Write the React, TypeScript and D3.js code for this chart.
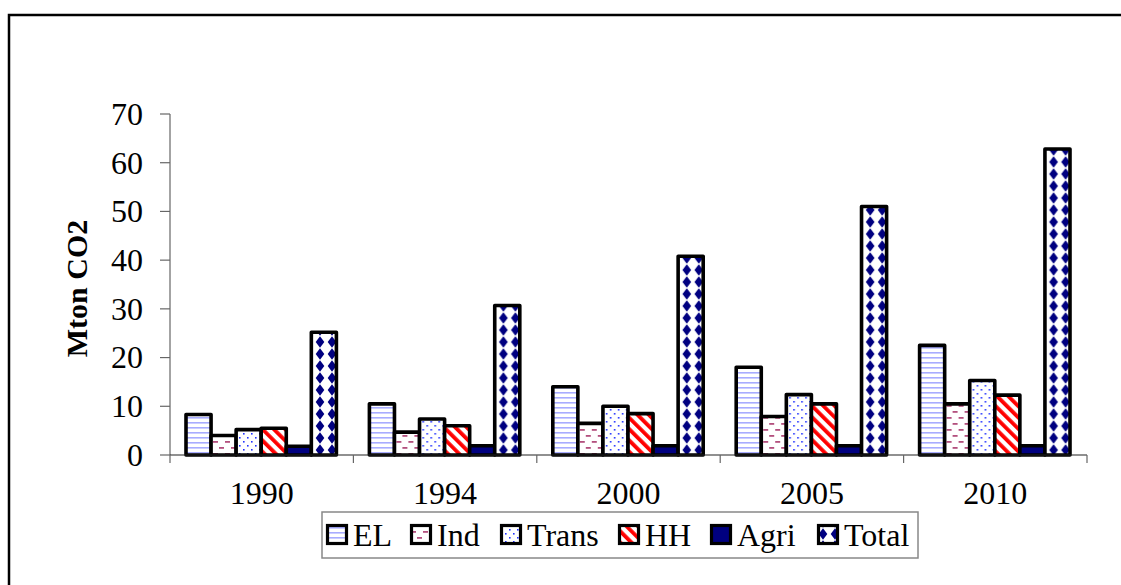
import React from "react";
import * as d3 from "d3";

// Emissions by sector, Mton CO2
const years = ["1990", "1994", "2000", "2005", "2010"];
const sectors = ["EL", "Ind", "Trans", "HH", "Agri", "Total"];
const elValues = [8.3, 10.5, 14.0, 18.0, 22.5];
const indValues = [4.0, 4.7, 6.5, 7.9, 10.5];
const transValues = [5.2, 7.4, 10.0, 12.4, 15.3];
const hhValues = [5.5, 6.0, 8.5, 10.5, 12.3];
const agriValues = [1.8, 1.9, 1.9, 1.9, 1.9];
const totalValues = [25.2, 30.7, 40.8, 51.0, 62.8];
const yTicks = [0, 10, 20, 30, 40, 50, 60, 70];

const seriesValues: number[][] = [elValues, indValues, transValues, hhValues, agriValues, totalValues];
const fills = ["url(#pEL)", "url(#pInd)", "url(#pTrans)", "url(#pHH)", "#000080", "url(#pTotal)"];

const W = 1121;
const H = 585;
const plotLeft = 170;
const plotRight = 1087;
const plotTop = 114;
const plotBottom = 455;
const FONT = "'Liberation Serif', 'Times New Roman', serif";
const FS = 32;

export default function App() {
  const x0 = d3.scaleBand<string>().domain(years).range([plotLeft, plotRight]).padding(0);
  const bw0 = x0.bandwidth();
  const x1 = d3.scaleBand<string>().domain(sectors).range([16, bw0 - 17]).padding(0);
  const y = d3.scaleLinear().domain([0, 70]).range([plotBottom, plotTop]);

  // legend layout: swatch + label, laid out left to right
  const legendStarts = [326, 410, 500, 618, 710, 817];

  return (
    <svg width={W} height={H} style={{ position: "absolute", left: 0, top: 0, background: "#fff" }}>
      <defs>
        <pattern id="pEL" patternUnits="userSpaceOnUse" width={8} height={5}>
          <rect width={8} height={5} fill="#fff" />
          <rect y={2} width={8} height={1.6} fill="#a8acff" />
        </pattern>
        <pattern id="pInd" patternUnits="userSpaceOnUse" width={12} height={12}>
          <rect width={12} height={12} fill="#fff" />
          <rect x={1} y={3} width={5} height={1.8} fill="#b3507e" />
          <rect x={7} y={9} width={5} height={1.8} fill="#b3507e" />
        </pattern>
        <pattern id="pTrans" patternUnits="userSpaceOnUse" width={8} height={8}>
          <rect width={8} height={8} fill="#fff" />
          <rect x={1} y={1} width={1.6} height={1.6} fill="#2233ff" />
          <rect x={5} y={5} width={1.6} height={1.6} fill="#2233ff" />
        </pattern>
        <pattern id="pHH" patternUnits="userSpaceOnUse" width={8} height={8} patternTransform="rotate(-45)">
          <rect width={8} height={8} fill="#fff" />
          <rect width={3.8} height={8} fill="#ff0000" />
        </pattern>
        <pattern id="pTotal" patternUnits="userSpaceOnUse" width={12} height={12}>
          <rect width={12} height={12} fill="#fff" />
          <path d="M6,0.3 L10.3,6 L6,11.7 L1.7,6 Z" fill="#000080" />
        </pattern>
      </defs>

      {/* outer frame */}
      <rect x={9} y={15} width={W + 20} height={H + 20} fill="none" stroke="#000" strokeWidth={2.5} />

      {/* y axis */}
      <line x1={plotLeft} x2={plotLeft} y1={plotTop} y2={plotBottom} stroke="#666" strokeWidth={1.2} />
      {yTicks.map((t) => (
        <g key={t}>
          <line x1={plotLeft - 10} x2={plotLeft} y1={y(t)} y2={y(t)} stroke="#666" strokeWidth={1.2} />
          <text
            x={plotLeft - 27}
            y={y(t)}
            dy="0.34em"
            textAnchor="end"
            fontFamily={FONT}
            fontSize={FS}
            fill="#000"
          >
            {t}
          </text>
        </g>
      ))}
      <text
        transform={`translate(87,${(plotTop + plotBottom) / 2 + 4}) rotate(-90)`}
        textAnchor="middle"
        fontFamily={FONT}
        fontSize={30}
        fontWeight="bold"
      >
        Mton CO2
      </text>

      {/* bars */}
      {years.map((yr, i) => (
        <g key={yr} transform={`translate(${x0(yr)},0)`}>
          {sectors.map((s, j) => {
            const v = seriesValues[j][i];
            return (
              <rect
                key={s}
                x={x1(s)}
                y={y(v)}
                width={x1.bandwidth()}
                height={y(0) - y(v)}
                fill={fills[j]}
                stroke="#000"
                strokeWidth={3.6}
                strokeLinejoin="round"
              />
            );
          })}
        </g>
      ))}

      {/* x axis */}
      <line x1={plotLeft} x2={plotRight} y1={plotBottom} y2={plotBottom} stroke="#222" strokeWidth={1.2} />
      {[...years.map((yr) => x0(yr) as number), plotRight].map((px, i) => (
        <line key={i} x1={px} x2={px} y1={plotBottom} y2={plotBottom + 8} stroke="#666" strokeWidth={1.2} />
      ))}
      {years.map((yr) => (
        <text
          key={yr}
          x={(x0(yr) as number) + bw0 / 2}
          y={504}
          textAnchor="middle"
          fontFamily={FONT}
          fontSize={FS}
        >
          {yr}
        </text>
      ))}

      {/* legend */}
      <rect x={322} y={512} width={596} height={46} fill="#fff" stroke="#888" strokeWidth={1.5} />
      {sectors.map((s, j) => (
        <g key={s} transform={`translate(${legendStarts[j]},0)`}>
          <rect x={1.5} y={525.5} width={19} height={18} fill={fills[j]} stroke="#000" strokeWidth={3.2} />
          <text x={27} y={546} fontFamily={FONT} fontSize={FS}>
            {s}
          </text>
        </g>
      ))}
    </svg>
  );
}
